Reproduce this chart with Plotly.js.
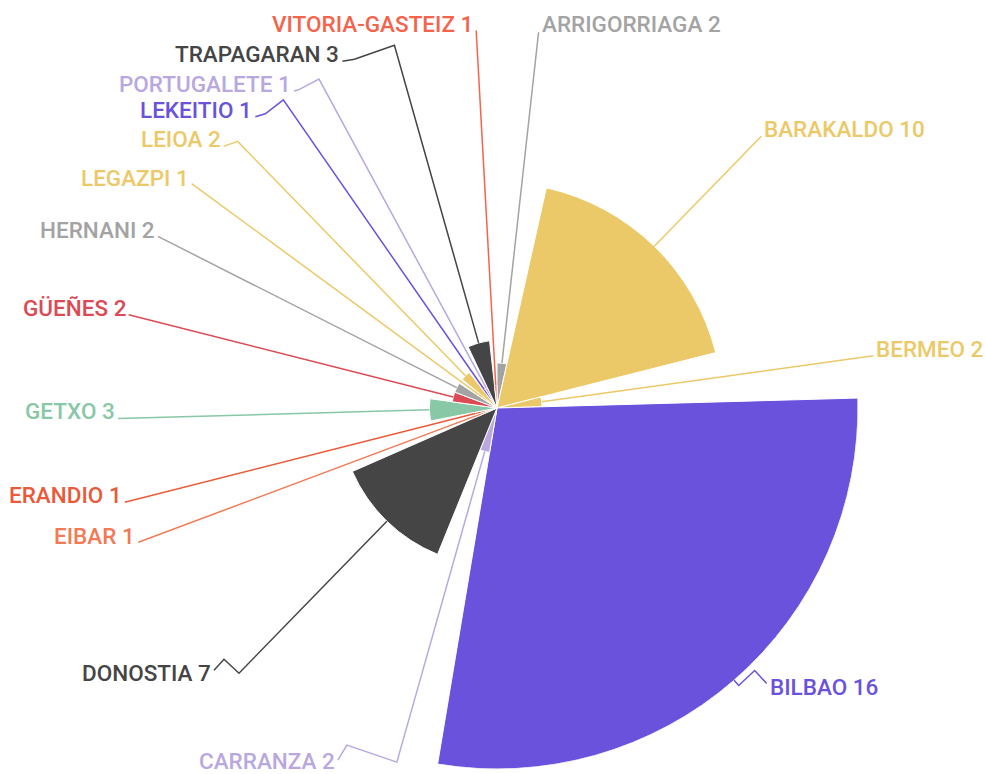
<!DOCTYPE html>
<html>
<head>
<meta charset="utf-8">
<script src="https://cdn.plot.ly/plotly-3.0.1.min.js"></script>
<style>html,body{margin:0;padding:0;background:#fff;}#chart{width:985px;height:774px;}</style>
</head>
<body>
<div id="chart"></div>
<script>
// ---- data ----
const cities = ['ARRIGORRIAGA','BARAKALDO','BERMEO','BILBAO','CARRANZA','DONOSTIA','EIBAR','ERANDIO','GETXO','GÜEÑES','HERNANI','LEGAZPI','LEIOA','LEKEITIO','PORTUGALETE','TRAPAGARAN','VITORIA-GASTEIZ'];
const counts = [2,10,2,16,2,7,1,1,3,2,2,1,2,1,1,3,1];

// ---- style ----
const colors = ['#a3a3a3','#ecc968','#ecc968','#6a52dc','#b9a8e0','#454545','#f27a55','#e95a3a','#88c8a6','#dc4a55','#a3a3a3','#ecc968','#ecc968','#6a52dc','#b9a8e0','#454545','#f4644c'];

// ---- layout geometry (pixels) ----
const W = 985, H = 774;
const CX = 497, CY = 408, RPX = 361;
// label leader geometry: radial end radius, extra kink points (relative), text vertical offset
const labelGeom = [
  {r:378, path:[], dy:-8},
  {r:379, path:[], dy:-7},
  {r:380, path:[], dy:-7},
  {r:368, path:[[16,-15],[28,-2]], dy:3.5},
  {r:368, path:[[-50,-17],[-59,-2]], dy:1},
  {r:370, path:[[-15,-14],[-25,-3]], dy:3},
  {r:383, path:[], dy:-6},
  {r:384, path:[], dy:-7.5},
  {r:379, path:[], dy:-7},
  {r:380, path:[], dy:-7},
  {r:380, path:[], dy:-6.5},
  {r:379, path:[], dy:-6},
  {r:372, path:[[-14,5]], dy:-7},
  {r:375, path:[[-18,14],[-28,17]], dy:-7},
  {r:374, path:[[-21,11],[-25,12]], dy:-7.5},
  {r:377, path:[[-40,14],[-52,16]], dy:-7.5},
  {r:378, path:[], dy:-7}
];

const total = counts.reduce((a,b)=>a+b,0);
const rMax = Math.max(...counts);
const widths = counts.map(v => v/total*360);
const thetas = [];
let acc = 0;
widths.forEach(w => { thetas.push(acc + w/2); acc += w; });

const px = (x) => x / W;
const py = (y) => 1 - y / H;
function polarPt(thetaDeg, rpx) {
  const t = thetaDeg * Math.PI / 180;
  return [CX + rpx*Math.sin(t), CY - rpx*Math.cos(t)];
}

const shapes = [], annotations = [];
cities.forEach((c, i) => {
  const g = labelGeom[i];
  const th = thetas[i];
  const p0 = polarPt(th, counts[i] / rMax * RPX);
  const p1 = polarPt(th, g.r);
  const pts = [p0, p1].concat(g.path.map(d => [p1[0]+d[0], p1[1]+d[1]]));
  const d = pts.map((p, k) => (k ? 'L' : 'M') + px(p[0]).toFixed(5) + ',' + py(p[1]).toFixed(5)).join(' ');
  shapes.push({type:'path', xref:'paper', yref:'paper', path:d, line:{color:colors[i], width:1.5}, layer:'above'});
  const last = pts[pts.length-1];
  const left = th > 180;
  annotations.push({
    xref:'paper', yref:'paper',
    x: px(last[0] + (left ? -1 : 1)), y: py(last[1] + g.dy),
    xanchor: left ? 'right' : 'left', yanchor:'middle',
    text: c + ' ' + counts[i], showarrow:false,
    font:{family:'Roboto, sans-serif', size:22.5, color:colors[i], weight:500}
  });
});

const trace = {
  type:'barpolar',
  r: counts, theta: thetas, width: widths,
  marker:{color: colors, line:{color:'#ffffff', width:1}},
  hoverinfo:'skip'
};

const layout = {
  width: W, height: H,
  margin:{l:0,r:0,t:0,b:0},
  paper_bgcolor:'#ffffff',
  showlegend:false,
  polar:{
    domain:{x:[(CX-RPX)/W, (CX+RPX)/W], y:[(H-CY-RPX)/H, (H-CY+RPX)/H]},
    bgcolor:'rgba(0,0,0,0)',
    radialaxis:{visible:false, range:[0, rMax], showgrid:false},
    angularaxis:{visible:false, rotation:90, direction:'clockwise', showgrid:false}
  },
  shapes, annotations
};

Plotly.newPlot('chart', [trace], layout, {staticPlot:true, displayModeBar:false});
</script>
</body>
</html>
